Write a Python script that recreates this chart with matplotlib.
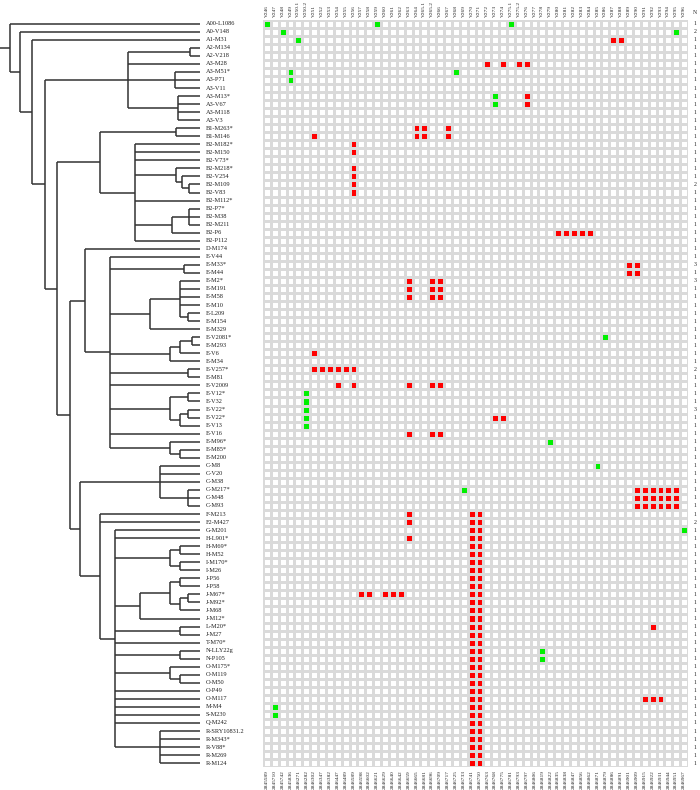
import matplotlib
matplotlib.use('Agg')
import matplotlib.pyplot as plt
from matplotlib.colors import ListedColormap
import numpy as np

# ---------------- data ----------------
rows = ['A00-L1086','A0-V148','A1-M31','A2-M134','A2-V218','A3-M28','A3-M51*','A3-P71','A3-V11',
        'A3-M13*','A3-V67','A3-M118','A3-V3','B1-M263*','B1-M146','B2-M182*','B2-M150','B2-V73*',
        'B2-M218*','B2-V254','B2-M109','B2-V83','B2-M112*','B2-P7*','B2-M38','B2-M211','B2-P6',
        'B2-P112','D-M174','E-V44','E-M33*','E-M44','E-M2*','E-M191','E-M58','E-M10','E-L209',
        'E-M154','E-M329','E-V2081*','E-M293','E-V6','E-M34','E-V257*','E-M81','E-V2009','E-V12*',
        'E-V32','E-V22*','E-V22*','E-V13','E-V16','E-M96*','E-M85*','E-M200','C-M8','C-V20','C-M38',
        'C-M217*','C-M48','C-M93','F-M213','F2-M427','G-M201','H-L901*','H-M69*','H-M52','I-M170*',
        'I-M26','J-P56','J-P58','J-M67*','J-M92*','J-M68','J-M12*','L-M20*','J-M27','T-M70*',
        'N-LLY22g','N-P105','O-M175*','O-M119','O-M50','O-P49','O-M117','M-M4','S-M230','Q-M242',
        'R-SRY10831.2','R-M343*','R-V88*','R-M269','R-M124']

columns = ['V246','V247','V248','V249','V250.1','V250.2','V251','V252','V253','V254','V255','V256',
           'V257','V258','V259','V260','V261','V262','V263','V264','V265.1','V265.2','V266','V267',
           'V268','V269','V270','V271','V272','V273','V274','V275.1','V275.2','V276','V277','V278',
           'V279','V280','V281','V282','V283','V284','V285','V286','V287','V288','V289','V290','V291',
           'V292','V293','V294','V295','V296']

positions = [2845589, 2845710, 2845742, 2845836, 2846271, 2846282, 2846302, 2846347, 2846382,
             2846447, 2846489, 2846589, 2846598, 2846602, 2846621, 2846629, 2846640, 2846642,
             2846659, 2846665, 2846681, 2846696, 2846709, 2846717, 2846725, 2846733, 2846741,
             2846750, 2846763, 2846768, 2846775, 2846781, 2846793, 2846797, 2846806, 2846819,
             2846822, 2846835, 2846838, 2846847, 2846856, 2846862, 2846871, 2846879, 2846886,
             2846891, 2846901, 2846909, 2846915, 2846922, 2846931, 2846944, 2846951, 2846967]

# row index -> columns with a red / green cell
red_cells = {
    2: ['V287', 'V288'],
    5: ['V272', 'V274', 'V275.2', 'V276'],
    9: ['V276'], 10: ['V276'],
    13: ['V264', 'V265.1', 'V267'],
    14: ['V251', 'V264', 'V265.1', 'V267'],
    15: ['V256'], 16: ['V256'], 18: ['V256'], 19: ['V256'], 20: ['V256'], 21: ['V256'],
    26: ['V280', 'V281', 'V282', 'V283', 'V284'],
    30: ['V289', 'V290'], 31: ['V289', 'V290'],
    32: ['V263', 'V265.2', 'V266'], 33: ['V263', 'V265.2', 'V266'], 34: ['V263', 'V265.2', 'V266'],
    41: ['V251'],
    43: ['V251', 'V252', 'V253', 'V254', 'V255', 'V256'],
    45: ['V254', 'V256', 'V263', 'V265.2', 'V266'],
    49: ['V273', 'V274'],
    51: ['V263', 'V265.2', 'V266'],
    58: ['V290', 'V291', 'V292', 'V293', 'V294', 'V295'],
    59: ['V290', 'V291', 'V292', 'V293', 'V294', 'V295'],
    60: ['V290', 'V291', 'V292', 'V293', 'V294', 'V295'],
    61: ['V263', 'V270', 'V271'], 62: ['V263', 'V270', 'V271'], 63: ['V270', 'V271'],
    64: ['V263', 'V270', 'V271'], 65: ['V270', 'V271'], 66: ['V270', 'V271'], 67: ['V270', 'V271'],
    68: ['V270', 'V271'], 69: ['V270', 'V271'], 70: ['V270', 'V271'],
    71: ['V257', 'V258', 'V260', 'V261', 'V262', 'V270', 'V271'],
    72: ['V270', 'V271'], 73: ['V270', 'V271'], 74: ['V270', 'V271'],
    75: ['V270', 'V271', 'V292'], 76: ['V270', 'V271'], 77: ['V270', 'V271'],
    78: ['V270', 'V271'], 79: ['V270', 'V271'], 80: ['V270', 'V271'], 81: ['V270', 'V271'],
    82: ['V270', 'V271'], 83: ['V270', 'V271'], 84: ['V270', 'V271', 'V291', 'V292', 'V293'],
    85: ['V270', 'V271'], 86: ['V270', 'V271'], 87: ['V270', 'V271'], 88: ['V270', 'V271'],
    89: ['V270', 'V271'], 90: ['V270', 'V271'], 91: ['V270', 'V271'], 92: ['V270', 'V271'],
}
green_cells = {
    0: ['V246', 'V259', 'V275.1'],
    1: ['V248', 'V295'],
    2: ['V250.1'],
    6: ['V249', 'V268'], 7: ['V249'],
    9: ['V273'], 10: ['V273'],
    39: ['V286'],
    46: ['V250.2'], 47: ['V250.2'], 48: ['V250.2'], 49: ['V250.2'], 50: ['V250.2'],
    52: ['V279'], 55: ['V285'], 58: ['V269'], 63: ['V296'],
    78: ['V278'], 79: ['V278'],
    85: ['V247'], 86: ['V247'],
}

n_values = [1, 2, 1, 1, 1, 1, 1, 1, 1, 1, 1, 1, 1, 1, 1, 1, 1, 1, 1, 1, 2, 1, 1, 1, 1, 1, 1, 1, 1, 1,
            3, 1, 3, 1, 1, 1, 1, 1, 1, 1, 1, 1, 1, 2, 1, 1, 1, 1, 3, 1, 1, 1, 1, 1, 1, 1, 1, 1, 1, 1,
            1, 1, 2, 1, 1, 1, 1, 1, 1, 1, 1, 1, 1, 1, 1, 1, 1, 1, 1, 1, 1, 1, 1, 1, 1, 1, 1, 1, 1, 1,
            1, 1, 1]

# dendrogram: (join position, [children]); ints are row indices
tree = (10, [0, (20, [1, (32, [2, (45, [
    (128, [(190, [3, 4]), 5, (175, [6, 7, 8]), (178, [9, 10, 11, 12])]),
    (57, [
        (100, [(176, [13, 14]),
               (135, [15, 16, 17, (176, [18, (182, [19, (189, [20, 21])])]), 22,
                      (172, [(189, [23, 24, 25]), 26]), 27])]),
        (70, [
            (85, [28, (110, [29, (184, [30, 31]),
                             (150, [(180, [32, 33, 34, 35, (188, [36, 37])]), 38]),
                             (170, [(180, [(192, [39, 40]), 41]), 42]),
                             (188, [43, 44]), 45,
                             (170, [(188, [46, 47]), (180, [(188, [48, 49]), 50])]), 51,
                             (170, [52, (180, [53, 54])])])]),
            (80, [(160, [55, 56, 57, (188, [58, 59, 60])]),
                  (100, [61, 62, (115, [63, 64, (170, [(180, [65, 66]), (180, [67, 68])]),
                                        (140, [(170, [(180, [69, 70]), (180, [(188, [71, 72]), 73])]), 74]),
                                        (180, [75, 76]), 77, (180, [78, 79]),
                                        (170, [80, (180, [81, 82])]), 83, 84, 85, 86, 87,
                                        (160, [88, 89, 90, 91, 92])])])]),
        ]),
    ]),
])])])])

# ---------------- layout ----------------
W, H = 700, 790
fig = plt.figure(figsize=(W / 100, H / 100), dpi=100)
fig.patch.set_facecolor('white')

def ax_px(l, t, r, b):
    return fig.add_axes([l / W, 1 - b / H, (r - l) / W, (b - t) / H])

GRID_L, GRID_R, GRID_T, GRID_B = 263, 688, 19.7, 767.2
LEAF_X = 200
LABEL_X = 206
N_X = 695
FONT = 'Liberation Serif'
TXT = '#222222'

nrow, ncol = len(rows), len(columns)
mat = np.zeros((nrow, ncol))
for r, cols in red_cells.items():
    for c in cols:
        mat[r, columns.index(c)] = 1
for r, cols in green_cells.items():
    for c in cols:
        mat[r, columns.index(c)] = 2

gax = ax_px(GRID_L, GRID_T, GRID_R, GRID_B)
cmap = ListedColormap(['white', '#ff0000', '#00f000'])
gax.pcolormesh(np.arange(ncol + 1), np.arange(nrow + 1), mat, cmap=cmap, vmin=-0.5, vmax=2.5,
               edgecolors='#dadada', linewidth=0.8)
gax.set_xlim(0, ncol)
gax.set_ylim(nrow, 0)
gax.axis('off')

colw = (GRID_R - GRID_L) / ncol
rowh = (GRID_B - GRID_T) / nrow
for j, name in enumerate(columns):
    gax.text(j + 0.5, -0.35, name, rotation=90, ha='center', va='bottom', fontsize=3.9,
             family=FONT, color=TXT, clip_on=False)
    gax.text(j + 0.5, nrow + 0.35, str(positions[j]), rotation=90, ha='center', va='top',
             fontsize=3.9, family=FONT, color=TXT, clip_on=False)
for i, name in enumerate(rows):
    gax.text((LABEL_X - GRID_L) / colw, i + 0.5, name, ha='left', va='center', fontsize=4.6,
             family=FONT, color=TXT, clip_on=False)
    gax.text((N_X - GRID_L) / colw, i + 0.5, str(n_values[i]), ha='center', va='center',
             fontsize=4.2, family=FONT, color=TXT, clip_on=False)
gax.text((N_X - GRID_L) / colw, (12 - GRID_T) / rowh, 'N', ha='center', va='center',
         fontsize=4.2, family=FONT, color=TXT, clip_on=False)

# dendrogram
dax = ax_px(0, GRID_T, LEAF_X, GRID_B)
dax.set_xlim(0, LEAF_X)
dax.set_ylim(nrow, 0)
dax.axis('off')
LC, LW = '#333333', 1.1

def draw(node):
    if isinstance(node, int):
        return LEAF_X, node + 0.5
    x, kids = node
    pts = [draw(k) for k in kids]
    ys = [p[1] for p in pts]
    for cx, cy in pts:
        dax.plot([x, cx], [cy, cy], color=LC, lw=LW, solid_capstyle='butt')
    dax.plot([x, x], [min(ys), max(ys)], color=LC, lw=LW, solid_capstyle='butt')
    return x, (min(ys) + max(ys)) / 2

rx, ry = draw(tree)
dax.plot([0, rx], [ry, ry], color=LC, lw=LW, solid_capstyle='butt')

fig.savefig('out.png', dpi=100, facecolor='white')
